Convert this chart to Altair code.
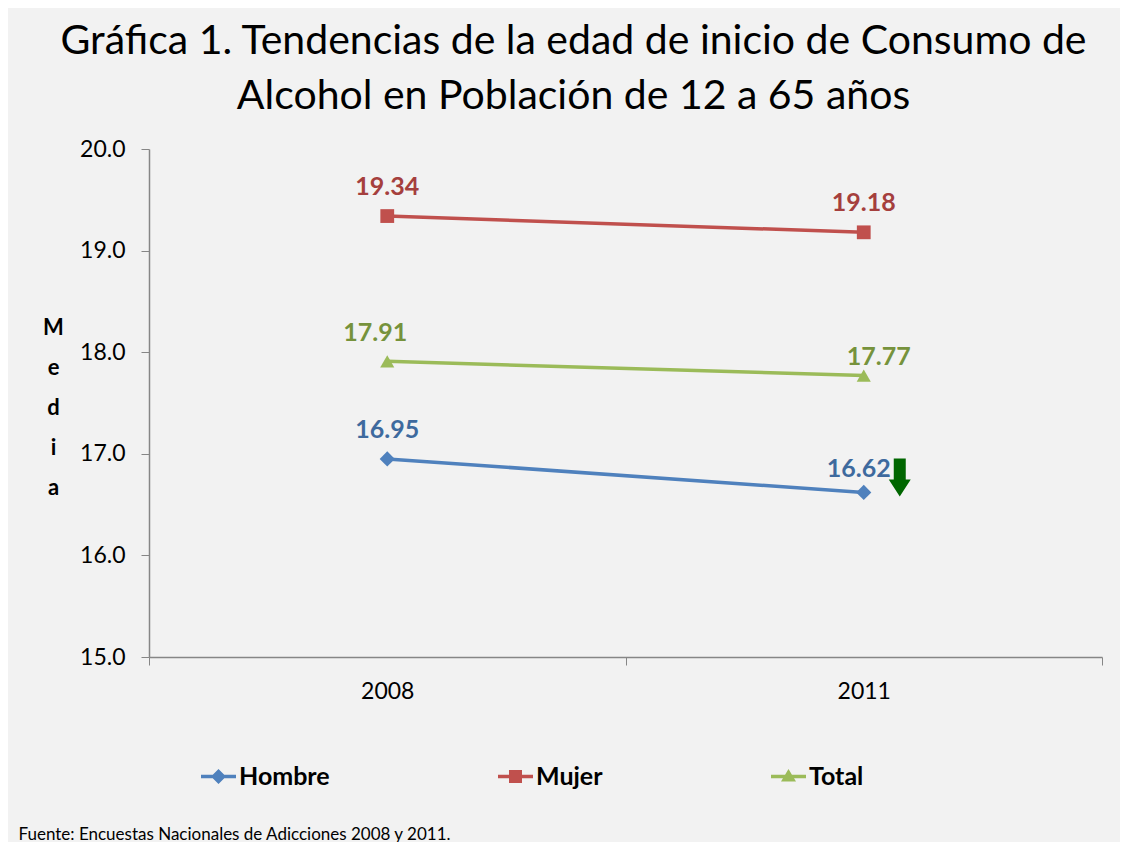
import altair as alt
import pandas as pd

years = ["2008", "2011"]
series = ["Hombre", "Mujer", "Total"]
hombre = [16.95, 16.62]
mujer = [19.34, 19.18]
total = [17.91, 17.77]

line_colors = ["#4f81bd", "#c0504d", "#9bbb59"]
label_colors = ["#3e6a9e", "#a53f3d", "#76923c"]

rows = []
for s, vals in zip(series, [hombre, mujer, total]):
    for y, v in zip(years, vals):
        rows.append({"year": y, "serie": s, "value": v, "lbl": f"{v:.2f}"})
df = pd.DataFrame(rows)

FONT = "Lato"

x_enc = alt.X(
    "year:N",
    scale=alt.Scale(type="band", paddingInner=0, paddingOuter=0, domain=years),
    axis=alt.Axis(
        title="Fuente: Encuestas Nacionales de Adicciones 2008 y 2011.",
        titleX=-131, titleY=182, titleAnchor="start", titleAlign="left",
        titleBaseline="alphabetic", titleFontSize=17, titleFontWeight="normal",
        titleFont=FONT, titleColor="#000000",
        labelAngle=0, labelFontSize=23, labelFont=FONT, labelColor="#000000",
        labelPadding=15, tickBand="extent", tickSize=8, tickColor="#868686",
        domainColor="#868686", domainWidth=1.5, grid=False,
    ),
)
y_enc = alt.Y(
    "value:Q",
    scale=alt.Scale(domain=[15, 20], nice=False, zero=False),
    axis=alt.Axis(
        values=[15, 16, 17, 18, 19, 20], format=".1f",
        title=["M", "e", "d", "i", "a"], titleAngle=0, titleX=-96, titleY=168,
        titleAlign="center", titleBaseline="top", titleLineHeight=40,
        titleFontSize=22, titleFontWeight="bold", titleFont=FONT, titleColor="#000000",
        labelFontSize=23, labelFont=FONT, labelColor="#000000", labelPadding=16,
        tickSize=8, tickColor="#868686", domainColor="#868686", domainWidth=1.5,
        grid=False,
    ),
)
color_scale = alt.Scale(domain=series, range=line_colors)

base = alt.Chart(df)

lines = base.mark_line(strokeWidth=3.5).encode(
    x=x_enc, y=y_enc,
    color=alt.Color("serie:N", scale=color_scale),
    detail="serie:N",
)

shape_map = {"Hombre": "diamond", "Mujer": "square", "Total": "triangle-up"}
size_map = {"Hombre": 230, "Mujer": 190, "Total": 200}
point_layers = []
for s in series:
    point_layers.append(
        base.transform_filter(alt.datum.serie == s)
        .mark_point(filled=True, opacity=1, shape=shape_map[s], size=size_map[s])
        .encode(x=x_enc, y=y_enc, color=alt.Color("serie:N", scale=color_scale))
    )

# label offsets (dx, dy) in pixels, per series and year
label_offsets = {
    ("Hombre", "2008"): (0, -29), ("Hombre", "2011"): (-5, -23),
    ("Mujer", "2008"): (0, -29), ("Mujer", "2011"): (0, -29),
    ("Total", "2008"): (-12, -28), ("Total", "2011"): (15, -19),
}
text_layers = []
for s, lc in zip(series, label_colors):
    for yr in years:
        dx, dy = label_offsets[(s, yr)]
        text_layers.append(
            base.transform_filter((alt.datum.serie == s) & (alt.datum.year == yr))
            .mark_text(fontSize=25, fontWeight="bold", font=FONT, dx=dx, dy=dy, color=lc)
            .encode(x=x_enc, y=y_enc, text="lbl:N")
        )

# down arrow next to the 2011 Hombre value
arrow_path = "M1.5,-1.7 L2.1,-1.7 L2.1,-0.65 L2.35,-0.65 L1.8,0.2 L1.25,-0.65 L1.5,-0.65 Z"
arrow = (
    base.transform_filter((alt.datum.serie == "Hombre") & (alt.datum.year == "2011"))
    .mark_point(filled=True, opacity=1, shape=arrow_path, size=1600, color="#006600",
                strokeWidth=0)
    .encode(x=x_enc, y=y_enc)
)

legend_shapes = [
    "M-1.75,-0.18 L1.75,-0.18 L1.75,0.18 L-1.75,0.18 Z M0,-0.75 L0.75,0 L0,0.75 L-0.75,0 Z",
    "M-1.75,-0.18 L1.75,-0.18 L1.75,0.18 L-1.75,0.18 Z M-0.65,-0.65 L0.65,-0.65 L0.65,0.65 L-0.65,0.65 Z",
    "M-1.75,-0.18 L1.75,-0.18 L1.75,0.18 L-1.75,0.18 Z M0,-0.75 L0.75,0.5 L-0.75,0.5 Z",
]
legend_layer = (
    base.transform_filter(alt.datum.value < 0)
    .mark_point(filled=True, opacity=1, size=400)
    .encode(
        x=x_enc, y=y_enc,
        color=alt.Color("serie:N", scale=color_scale, legend=alt.Legend(
            title=None, orient="none", legendX=57, legendY=615, direction="horizontal",
            columns=3, gridAlign="none", columnPadding=168, labelOffset=8,
            labelFontSize=25, labelFontWeight="bold", labelFont=FONT, labelColor="#000000",
            symbolSize=400, symbolStrokeWidth=0, symbolOpacity=1,
        )),
        shape=alt.Shape("serie:N", scale=alt.Scale(domain=series, range=legend_shapes)),
    )
)

chart = (
    alt.layer(lines, *point_layers, *text_layers, arrow, legend_layer)
    .properties(
        width=953, height=508,
        autosize=alt.AutoSizeParams(type="none"),
        padding={"left": 141, "top": 141, "right": 18, "bottom": 185},
        background="#f2f2f2",
        title=alt.TitleParams(
            ["Gráfica 1. Tendencias de la edad de inicio de Consumo de",
             "Alcohol en Población de 12 a 65 años"],
            anchor="middle", dx=-52, fontSize=41, font=FONT, fontWeight="normal",
            color="#000000", lineHeight=55, offset=20,
        ),
    )
    .configure_view(stroke=None)
)

chart.save("out.html", embed_options={"renderer": "svg", "actions": False})
